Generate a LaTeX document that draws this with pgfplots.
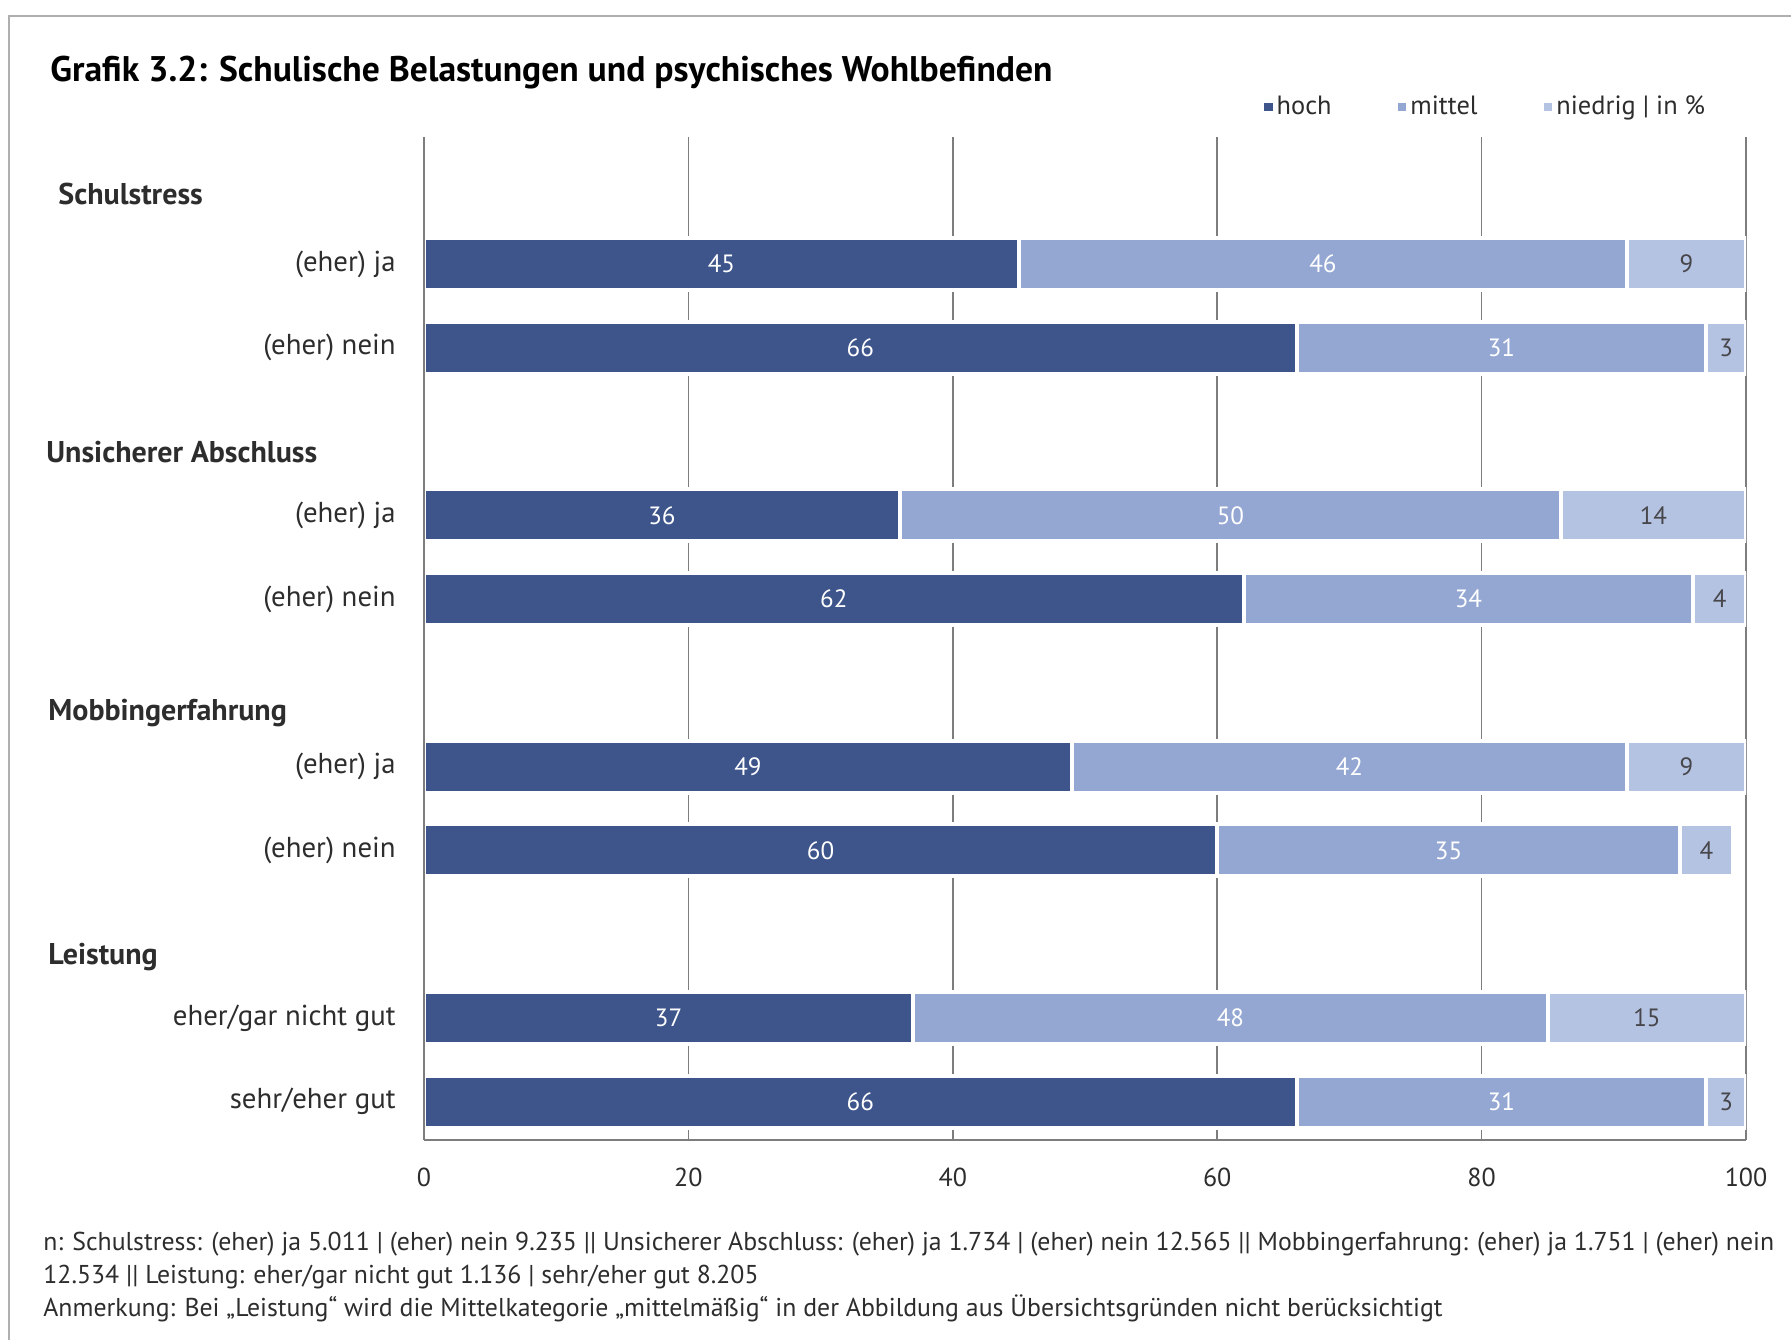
\documentclass[border=0pt]{standalone}
\usepackage{pgfplots}
\pgfplotsset{compat=1.18}
\usepackage{pgfplotstable}
\usepackage{fontspec}
\setmainfont{PT Sans}

\definecolor{hoch}{RGB}{62,85,140}
\definecolor{mittel}{RGB}{148,167,211}
\definecolor{niedrig}{RGB}{181,195,227}
\definecolor{gridgray}{RGB}{125,125,125}
\definecolor{framegray}{RGB}{175,175,175}
\definecolor{textgray}{RGB}{45,45,45}
\definecolor{labeldark}{RGB}{70,70,75}

% Anteile in %, Position von unten gezaehlt
\pgfplotstableread{
pos hoch mittel niedrig
11 45 46 9
10 66 31 3
8 36 50 14
7 62 34 4
5 49 42 9
4 60 35 4
2 37 48 15
1 66 31 3
}\belastung

\pgfplotsset{
  /pgf/number format/assume math mode=true,
  belastungsachse/.style={
    at={(212pt,-570pt)}, anchor=south west,
    scale only axis, width=661pt, height=501.5pt,
    xmin=0, xmax=100, ymin=0.543, ymax=12.516,
  },
  quadrat/.style={legend image code/.code={\fill[##1, draw=none] (0pt,-2.2pt) rectangle (4.4pt,2.2pt);}},
  wertlabel/.style={draw=none, mark=none, nodes near coords, point meta=explicit,
    nodes near coords style={anchor=center, inner sep=0pt, font=\fontsize{12.5}{14}\selectfont}},
}

\begin{document}
\begin{tikzpicture}
\path[use as bounding box] (0,0) rectangle (895.5pt,-670pt);
\draw[framegray, line width=1pt] (4.5pt,-670pt) -- (4.5pt,-8pt) -- (895.5pt,-8pt);

\node[anchor=base west, inner sep=0pt, text=black, font=\fontsize{17.8}{20}\selectfont\bfseries]
  at (25pt,-40.5pt) {Grafik 3.2: Schulische Belastungen und psychisches Wohlbefinden};

\begin{scope}[every node/.style={anchor=west, inner sep=0pt, text=textgray, font=\fontsize{15}{17}\selectfont\bfseries}]
  \node at (29pt,-97pt) {Schulstress};
  \node at (23pt,-226pt) {Unsicherer Abschluss};
  \node at (24pt,-356.5pt) {Mobbingerfahrung};
  \node at (24pt,-478.5pt) {Leistung};
\end{scope}

\begin{axis}[belastungsachse,
  xbar stacked, bar width=26pt,
  axis x line=bottom, axis y line=left,
  axis line style={-, gridgray, line width=1pt},
  xtick={0,20,...,100}, xmajorgrids,
  grid style={gridgray, line width=0.8pt},
  ytick={1,2,4,5,7,8,10,11},
  yticklabels={sehr/eher gut, eher/gar nicht gut, (eher) nein, (eher) ja, (eher) nein, (eher) ja, (eher) nein, (eher) ja},
  major tick length=0pt,
  tick label style={font=\fontsize{13}{15}\selectfont, text=textgray},
  yticklabel style={anchor=east, inner sep=0pt, xshift=-14pt, font=\fontsize{14.4}{16}\selectfont},
  xticklabel style={anchor=north, inner sep=0pt, yshift=-14pt},
  legend columns=-1,
  legend style={at={(axis description cs:0.635,1.030)}, anchor=west,
    draw=none, fill=none, inner sep=0pt,
    font=\fontsize{13.2}{15}\selectfont, text=textgray,
    /tikz/every even column/.append style={column sep=31pt}},
  legend cell align=left,
]
\addplot[fill=hoch, draw=white, line width=2pt, quadrat] table[x=hoch, y=pos] {\belastung};
\addplot[fill=mittel, draw=white, line width=2pt, quadrat] table[x=mittel, y=pos] {\belastung};
\addplot[fill=niedrig, draw=white, line width=2pt, quadrat] table[x=niedrig, y=pos] {\belastung};
\legend{hoch, mittel, niedrig | in \%}
\end{axis}

\begin{axis}[belastungsachse,
  axis x line=none, axis y line=left,
  axis line style={-, gridgray, line width=1pt},
  xtick=\empty, ytick=\empty,
]
\addplot[wertlabel, nodes near coords style={text=white}]
  table[x expr=\thisrow{hoch}/2, y=pos, meta=hoch] {\belastung};
\addplot[wertlabel, nodes near coords style={text=white}]
  table[x expr=\thisrow{hoch}+\thisrow{mittel}/2, y=pos, meta=mittel] {\belastung};
\addplot[wertlabel, nodes near coords style={text=labeldark}]
  table[x expr=\thisrow{hoch}+\thisrow{mittel}+\thisrow{niedrig}/2, y=pos, meta=niedrig] {\belastung};
\end{axis}

\begin{scope}[every node/.style={anchor=base west, inner sep=0pt, text=textgray, font=\fontsize{12.9}{14}\selectfont}]
  \node at (21.5pt,-625pt) {n: Schulstress: (eher) ja 5.011 | (eher) nein 9.235 || Unsicherer Abschluss: (eher) ja 1.734 | (eher) nein 12.565 || Mobbingerfahrung: (eher) ja 1.751 | (eher) nein};
  \node at (21.5pt,-641.5pt) {12.534 || Leistung: eher/gar nicht gut 1.136 | sehr/eher gut 8.205};
  \node at (21.5pt,-658pt) {Anmerkung: Bei „Leistung“ wird die Mittelkategorie „mittelmäßig“ in der Abbildung aus Übersichtsgründen nicht berücksichtigt};
\end{scope}
\end{tikzpicture}
\end{document}
